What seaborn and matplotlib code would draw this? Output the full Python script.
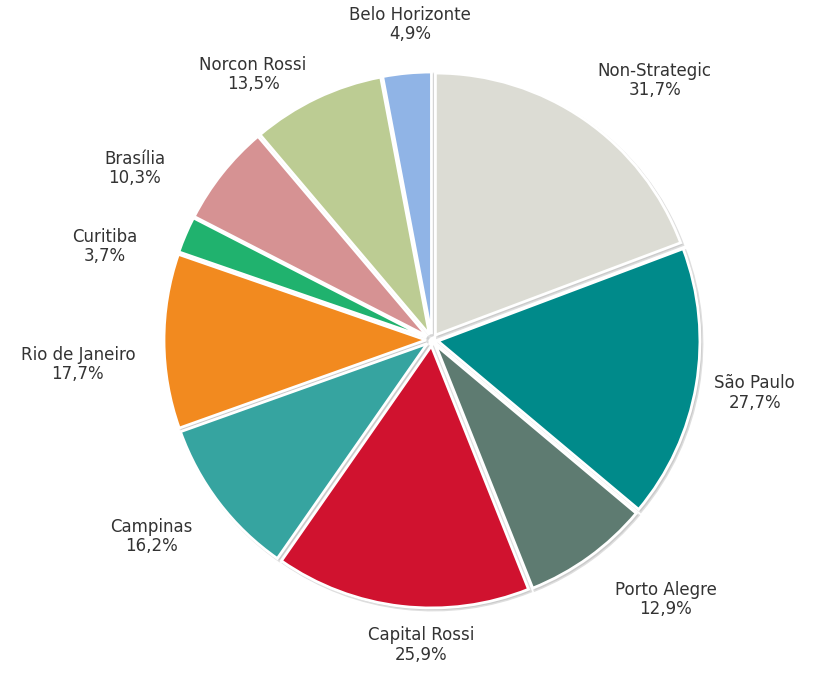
import matplotlib
matplotlib.use("Agg")
import matplotlib.pyplot as plt
import seaborn as sns
import numpy as np

categories = ["Non-Strategic", "São Paulo", "Porto Alegre", "Capital Rossi", "Campinas",
              "Rio de Janeiro", "Curitiba", "Brasília", "Norcon Rossi", "Belo Horizonte"]
values = [31.7, 27.7, 12.9, 25.9, 16.2, 17.7, 3.7, 10.3, 13.5, 4.9]
value_labels = ["31,7%", "27,7%", "12,9%", "25,9%", "16,2%", "17,7%", "3,7%", "10,3%", "13,5%", "4,9%"]
colors = ["#dcdcd4", "#008a8a", "#5e7b71", "#d0122f", "#36a4a0",
          "#f28a1f", "#20b26e", "#d69293", "#bccc93", "#90b4e6"]

sns.set_theme(style="white")
plt.rcParams['font.family'] = ['DejaVu Sans']

fig = plt.figure(figsize=(8.31, 6.75), dpi=100)
ax = fig.add_axes([0, 0, 1, 1])

cx, cy, R = 432, 335, 262
wedges, texts = ax.pie(values, colors=colors, startangle=90, counterclock=False,
                       center=(cx, cy), radius=R, explode=[6] * len(values),
                       labels=[f"{c}\n{v}" for c, v in zip(categories, value_labels)],
                       labeldistance=1.27, frame=True,
                       shadow=dict(ox=1.5, oy=-1.5, facecolor="#b0b0b0",
                                   edgecolor="#c8c8c8", alpha=0.6),
                       wedgeprops=dict(edgecolor="white", linewidth=2),
                       textprops=dict(fontsize=12, color="#333333", ha="center", va="center",
                                      linespacing=1.1))

# label placement to mirror reference
label_angles = [49.4, -9.3, -48, -92, -145, -176, 164, 150, 124, 94]
label_dist = [342, 327, 349, 305, 343, 355, 340, 343, 320, 316]
for t, a, d in zip(texts, label_angles, label_dist):
    r = np.deg2rad(a)
    t.set_position((cx + d * np.cos(r), cy + d * np.sin(r)))
    t.set_ha("center")
    t.set_va("center")

ax.set_xlim(0, 831)
ax.set_ylim(0, 675)
ax.set_aspect('equal')
ax.axis('off')
fig.savefig("out.png", dpi=100)
